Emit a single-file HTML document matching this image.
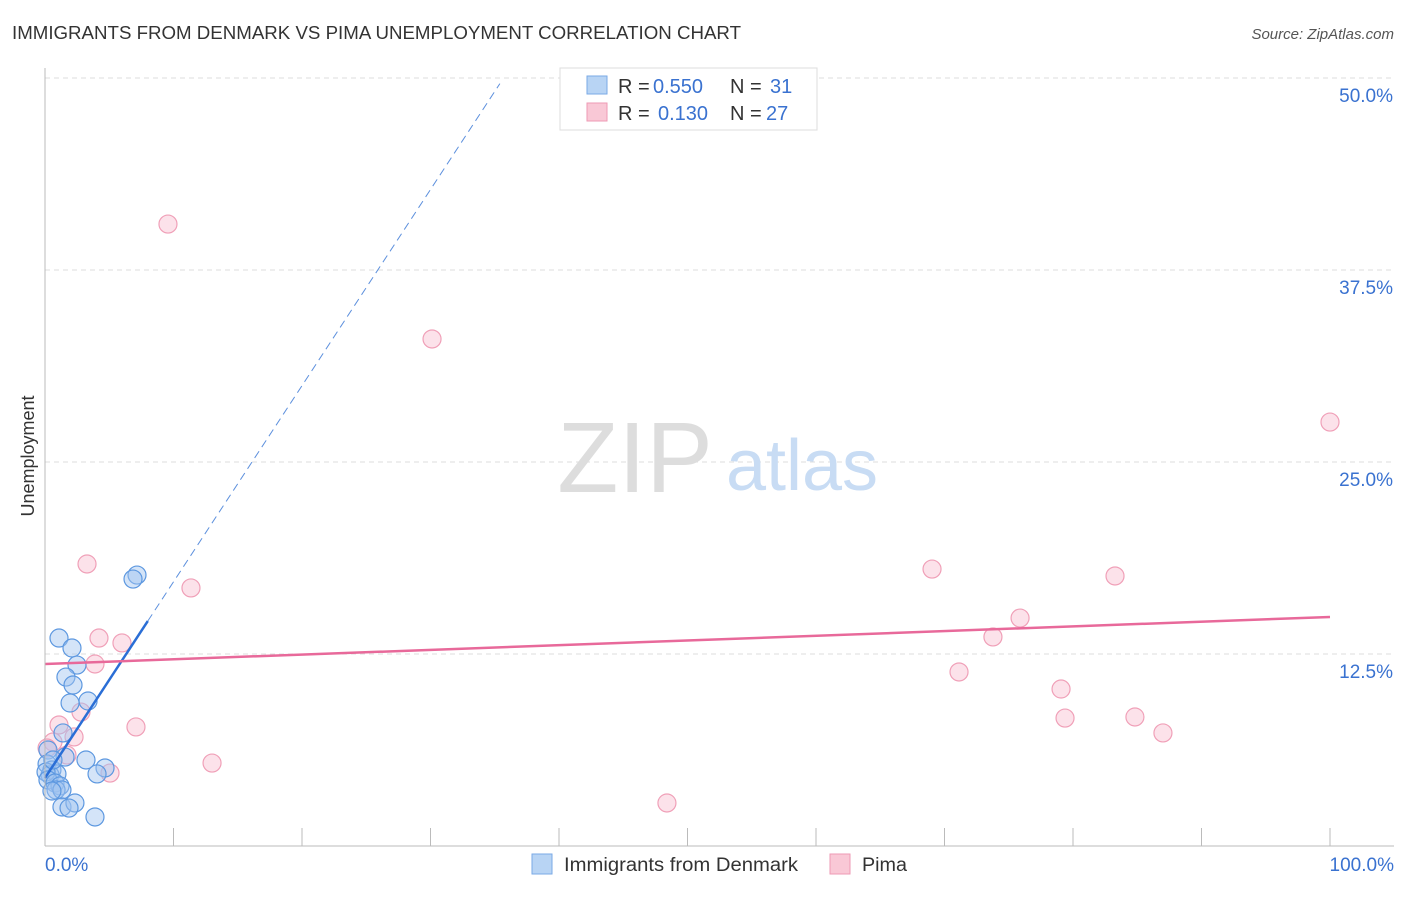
<!DOCTYPE html>
<html><head><meta charset="utf-8">
<style>
body{margin:0;background:#fff;font-family:"Liberation Sans",sans-serif;}
svg text{font-family:"Liberation Sans",sans-serif;}
</style></head>
<body>
<svg id="chart" width="1406" height="892" xmlns="http://www.w3.org/2000/svg">
<text x="12" y="39" font-size="18" fill="#333" textLength="729" lengthAdjust="spacingAndGlyphs">IMMIGRANTS FROM DENMARK VS PIMA UNEMPLOYMENT CORRELATION CHART</text>
<text x="1394" y="39" font-size="15" fill="#555" text-anchor="end" font-style="italic">Source: ZipAtlas.com</text>
<text transform="translate(34,456) rotate(-90)" font-size="18" fill="#333" text-anchor="middle">Unemployment</text>
<g id="grid"></g>
<g>
<text x="635" y="492" font-size="100" fill="#ddd" font-family="Liberation Serif" text-anchor="middle">ZIP</text>
<text x="802" y="490" font-size="72" fill="#c8dcf4" text-anchor="middle">atlas</text>
</g>
<g id="marks"></g>
<g id="axes"></g>
<g>
<rect x="560" y="68" width="257" height="62" fill="#fff" stroke="#ddd"/>
<rect x="587" y="76" width="20" height="18" fill="#b8d4f4" stroke="#7aaae6"/>
<text x="618" y="93" font-size="20" fill="#333">R = <tspan x="653" fill="#3a72d0">0.550</tspan><tspan x="730">N = </tspan><tspan x="770" fill="#3a72d0">31</tspan></text>
<rect x="587" y="103" width="20" height="18" fill="#f9c8d6" stroke="#ee9ab4"/>
<text x="618" y="120" font-size="20" fill="#333">R = <tspan x="658" fill="#3a72d0">0.130</tspan><tspan x="730">N = </tspan><tspan x="766" fill="#3a72d0">27</tspan></text>
</g>
<g>
<rect x="532" y="854" width="20" height="20" fill="#b8d4f4" stroke="#7aaae6"/>
<text x="564" y="871" font-size="19" fill="#333" textLength="234" lengthAdjust="spacingAndGlyphs">Immigrants from Denmark</text>
<rect x="830" y="854" width="20" height="20" fill="#f9c8d6" stroke="#ee9ab4"/>
<text x="862" y="871" font-size="19" fill="#333" textLength="45" lengthAdjust="spacingAndGlyphs">Pima</text>
</g>
</svg>
<script>
const yTicks=[12.5,25,37.5,50];
const yTickLabels=["12.5%","25.0%","37.5%","50.0%"];
const xTickLabels=["0.0%","100.0%"];
const blueX=[7.16,6.85,1.09,2.10,2.49,1.63,2.18,3.35,1.95,0.23,1.56,3.19,4.67,4.05,0.16,0.54,0.39,0.93,0.08,0.23,0.78,1.17,0.86,1.32,0.54,1.32,2.33,1.87,3.89,0.62,1.40];
const blueY=[17.64,17.38,13.54,12.89,11.78,11.00,10.48,9.44,9.31,6.25,5.79,5.60,5.08,4.69,5.34,4.95,4.62,4.69,4.82,4.30,4.10,3.91,3.65,3.65,3.58,2.54,2.80,2.47,1.89,5.60,7.36];
const pinkX=[9.57,30.12,100,3.27,11.36,69.03,83.27,75.88,73.77,4.20,5.99,3.89,71.13,79.07,2.80,79.38,84.82,7.08,1.09,87.0,2.26,0.62,1.71,0.16,13.0,5.06,48.4];
const pinkY=[40.49,33.01,27.60,18.36,16.80,18.03,17.58,14.84,13.61,13.54,13.22,11.85,11.33,10.22,8.72,8.33,8.40,7.75,7.88,7.36,7.10,6.77,5.92,6.38,5.40,4.75,2.80];
const blueTrend=[4.43,1.277];
const pinkTrend=[11.85,0.0306];
const NS="http://www.w3.org/2000/svg";
const X=v=>45+v*12.85;
const Y=v=>846-v*15.36;
function mk(p,t,a){const e=document.createElementNS(NS,t);for(const k in a)e.setAttribute(k,a[k]);p.appendChild(e);return e;}
const grid=document.getElementById('grid'),axes=document.getElementById('axes'),marks=document.getElementById('marks');
yTicks.forEach((t,i)=>{
 const l=mk(grid,'line',{x1:45,x2:1394,y1:Y(t),y2:Y(t),stroke:'#ddd','stroke-dasharray':'5,4'});
 
 
 const tx=mk(axes,'text',{x:1393,y:Y(t)+24,'font-size':19,fill:'#3a72d0','text-anchor':'end'});
 tx.textContent=yTickLabels[i];
 
 
});
const ax=mk(axes,'line',{x1:45,x2:45,y1:68,y2:846,stroke:'#bbb'});


const bx=mk(axes,'line',{x1:45,x2:1394,y1:846,y2:846,stroke:'#bbb'});


for(let i=1;i<=10;i++){const t=mk(axes,'line',{x1:X(i*10),x2:X(i*10),y1:828,y2:846,stroke:'#bbb'});
 
 }
[[X(0),'start',xTickLabels[0]],[1394,'end',xTickLabels[1]]].forEach(a=>{
 const t=mk(axes,'text',{x:a[0],y:871,'font-size':19,fill:'#3a72d0','text-anchor':a[1]});t.textContent=a[2];
 
 });
pinkX.forEach((x,i)=>{const c=mk(marks,'circle',{cx:X(x),cy:Y(pinkY[i]),r:9,fill:'rgba(249,190,208,0.45)',stroke:'#f0a0b8','stroke-width':1.2});
 
 });
blueX.forEach((x,i)=>{const c=mk(marks,'circle',{cx:X(x),cy:Y(blueY[i]),r:9,fill:'rgba(160,196,240,0.45)',stroke:'#5d98e0','stroke-width':1.2});
 
 });
const bs=mk(marks,'line',{x1:X(0),y1:Y(blueTrend[0]),x2:X(8),y2:Y(blueTrend[0]+8*blueTrend[1]),stroke:'#2a6ed6','stroke-width':2.5});


const bd=mk(marks,'line',{x1:X(8),y1:Y(blueTrend[0]+8*blueTrend[1]),x2:X(35.4),y2:Y(blueTrend[0]+35.4*blueTrend[1]),stroke:'#5d90dd','stroke-width':1,'stroke-dasharray':'8,5'});


const pl=mk(marks,'line',{x1:X(0),y1:Y(pinkTrend[0]),x2:X(100),y2:Y(pinkTrend[0]+100*pinkTrend[1]),stroke:'#e8699a','stroke-width':2.5});


</script>
</body></html>
